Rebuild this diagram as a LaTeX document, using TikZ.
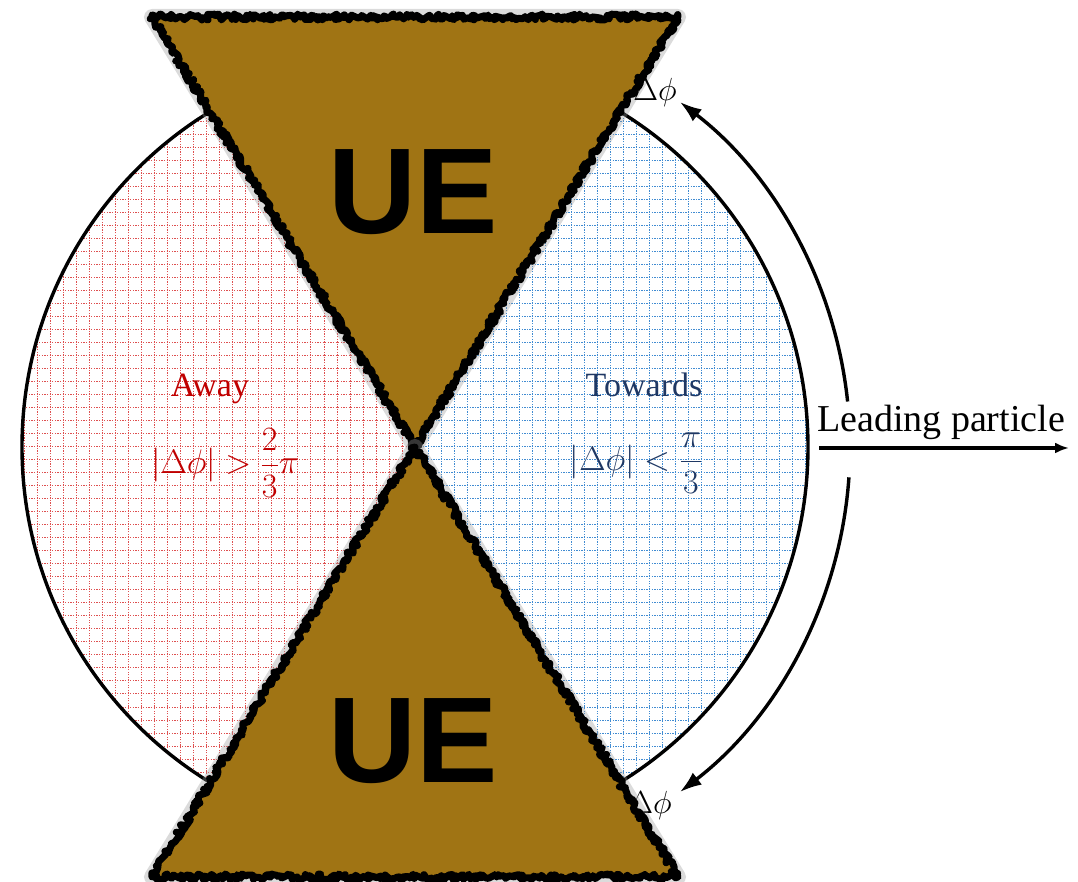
\RequirePackage{fix-cm}
\documentclass[tikz,border=0pt]{standalone}
\usepackage{amsmath}
\usepackage{fontspec}
\setmainfont{Liberation Serif}
\newfontfamily\uefont{Liberation Sans}
\usetikzlibrary{arrows.meta,decorations.pathmorphing}
\definecolor{uebrown}{RGB}{160,116,20}
\definecolor{awayred}{RGB}{192,0,0}
\definecolor{towblue}{RGB}{31,56,100}
\definecolor{gridred}{RGB}{222,80,80}
\definecolor{gridblue}{RGB}{65,140,210}

\begin{document}
\begin{tikzpicture}[x=1pt,y=1pt]
\tikzset{edge/.style = {-{Latex[length=22pt,width=15pt]}, line width=3.4pt}}
\tikzset{rough/.style = {decorate, decoration={random steps, segment length=2pt, amplitude=3pt}}}
\tikzset{gridline/.style = {dash pattern=on 1.3pt off 1.3pt, line width=1pt}}
\tikzstyle{every node}=[font=\fontsize{34}{40}\selectfont]
\useasboundingbox (-415,-435) rectangle (663,447);
\coordinate (O) at (0,0);
% the two halves of the circle
\begin{scope}
\clip (O) circle (393);
\draw [gridred, gridline, step=13pt] (-420,-400) grid (0,400);
\draw [gridblue, gridline, step=13pt] (0,-400) grid (420,400);
\end{scope}
\draw [line width=3.4pt] (O) circle (393);
\node [text=awayred, anchor=base] at (-205,50)(Aw) {Away};
\node [text=awayred] at (-190,-16)(AwM) {$|\Delta\phi| > \dfrac{2}{3}\pi$};
\node [text=towblue, anchor=base] at (229,50)(To) {Towards};
\node [text=towblue] at (221,-16)(ToM) {$|\Delta\phi| < \dfrac{\pi}{3}$};
\node [font=\fontsize{32}{36}\selectfont] at (235,-358)(DPb) {$\Delta\phi$};
% UE cones
\foreach \s in {1,-1}{
\draw [black!40, opacity=.35, line width=16pt, line join=round] (-263,430*\s) -- (263,430*\s) -- (O) -- cycle;
\fill [uebrown] (-263,430*\s) -- (263,430*\s) -- (O) -- cycle;
\draw [rough, line width=7pt, line join=round] (-263,430*\s) -- (263,430*\s) -- (O) -- cycle;
}
\node [font=\uefont\bfseries\fontsize{122}{130}\selectfont, inner sep=0pt] at (-2,255)(UEt) {UE};
\node [font=\uefont\bfseries\fontsize{122}{130}\selectfont, inner sep=0pt] at (-2,-294)(UEb) {UE};
% azimuth arrows
\draw [edge] (6:435) arc (6:52.5:435);
\draw [edge] (-4:435) arc (-4:-52.5:435);
\node [font=\fontsize{32}{36}\selectfont] at (240,354)(DPt) {$\Delta\phi$};
% leading particle
\coordinate (lp0) at (404,-1);
\coordinate (lp1) at (654,-1);
\draw [-{Latex[length=14pt,width=11pt]}, line width=4pt] (lp0) -- (lp1);
\node [font=\fontsize{38}{44}\selectfont, anchor=base] at (526,15)(LP) {Leading particle};
\end{tikzpicture}
\end{document}
